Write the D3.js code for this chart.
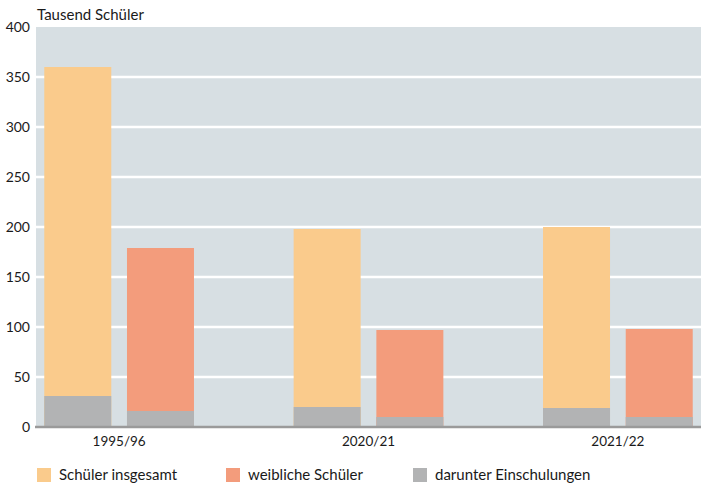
<!DOCTYPE html>
<html>
<head>
<meta charset="utf-8">
<script src="https://cdn.jsdelivr.net/npm/d3@7"></script>
<style>
  body { margin: 0; background: #fff; }
  text { font-family: "Source Sans Pro", Lato, "Noto Sans", sans-serif; fill: #1a1a1a; }
</style>
</head>
<body>
<script>
// values, in thousand pupils
var years = ["1995/96", "2020/21", "2021/22"];
var seriesNames = ["Schüler insgesamt", "weibliche Schüler", "darunter Einschulungen"];
var totalAll = [360, 198, 200];
var totalFemale = [179, 97, 98];
var enrolAll = [31, 20, 19];
var enrolFemale = [16, 10, 10];
var yTicks = [0, 50, 100, 150, 200, 250, 300, 350, 400];

var colors = ["#facb8c", "#f39c7c", "#b2b3b4"];

var w = 710, h = 486;
// note: "top" is reserved on window, so use plot* names
var plotLeft = 36, plotRight = 701, plotTop = 27, plotBottom = 427;

var svg = d3.select("body").append("svg")
  .attr("width", w)
  .attr("height", h);

var x0 = d3.scaleBand().domain(years).range([plotLeft, plotRight]).paddingInner(1 / 3).paddingOuter(0);
var x1 = d3.scaleBand().domain(["all", "female"]).range([0, x0.bandwidth()]).paddingInner(0.19).paddingOuter(0.1);
var y = d3.scaleLinear().domain([0, 400]).range([plotBottom, plotTop]);

// plot background
svg.append("rect")
  .attr("x", plotLeft).attr("y", plotTop)
  .attr("width", plotRight - plotLeft).attr("height", plotBottom - plotTop)
  .attr("fill", "#d7dfe3");

// gridlines
svg.selectAll("line.grid")
  .data(yTicks.filter(function (d) { return d > 0 && d < 400; }))
  .enter().append("line")
  .attr("x1", plotLeft).attr("x2", plotRight)
  .attr("y1", function (d) { return y(d); })
  .attr("y2", function (d) { return y(d); })
  .attr("stroke", "#fff")
  .attr("stroke-width", 2.5);

var rows = years.map(function (yr, i) {
  return { year: yr, all: totalAll[i], female: totalFemale[i], enAll: enrolAll[i], enFemale: enrolFemale[i] };
});

var g = svg.selectAll("g.group")
  .data(rows)
  .enter().append("g")
  .attr("transform", function (d) { return "translate(" + x0(d.year) + ",0)"; });

function bar(key, val, col) {
  g.append("rect")
    .attr("x", x1(key))
    .attr("width", x1.bandwidth())
    .attr("y", function (d) { return y(d[val]); })
    .attr("height", function (d) { return y(0) - y(d[val]); })
    .attr("fill", col);
}
bar("all", "all", colors[0]);
bar("female", "female", colors[1]);
bar("all", "enAll", colors[2]);
bar("female", "enFemale", colors[2]);

// baseline
svg.append("line")
  .attr("x1", plotLeft - 1).attr("x2", plotRight)
  .attr("y1", plotBottom).attr("y2", plotBottom)
  .attr("stroke", "#9a9a9a")
  .attr("stroke-width", 2.5);

// y axis labels
var yAxis = svg.append("g")
  .attr("transform", "translate(" + (plotLeft - 6) + ",0)")
  .call(d3.axisLeft(y).tickValues(yTicks).tickSize(0).tickPadding(0));
yAxis.select(".domain").remove();
yAxis.selectAll("text")
  .attr("font-size", 14)
  .style("font-family", "'Source Sans Pro', Lato, 'Noto Sans', sans-serif")
  .attr("fill", "#1a1a1a");

// x axis labels
var xAxis = svg.append("g")
  .attr("transform", "translate(0," + (plotBottom + 7) + ")")
  .call(d3.axisBottom(x0).tickSize(0).tickPadding(0));
xAxis.select(".domain").remove();
xAxis.selectAll("text")
  .attr("font-size", 13.5)
  .attr("dy", "0.9em")
  .style("font-family", "'Source Sans Pro', Lato, 'Noto Sans', sans-serif")
  .attr("fill", "#1a1a1a");

// unit title
svg.append("text")
  .attr("x", 37).attr("y", 20)
  .attr("font-size", 15)
  .text("Tausend Schüler");

// legend
var legendX = [37, 226, 413];
var lg = svg.selectAll("g.legend")
  .data(seriesNames)
  .enter().append("g")
  .attr("transform", function (d, i) { return "translate(" + legendX[i] + ",468)"; });
lg.append("rect")
  .attr("width", 14).attr("height", 14)
  .attr("fill", function (d, i) { return colors[i]; });
lg.append("text")
  .attr("x", 22).attr("y", 12)
  .attr("font-size", 15)
  .text(function (d) { return d; });
</script>
</body>
</html>
